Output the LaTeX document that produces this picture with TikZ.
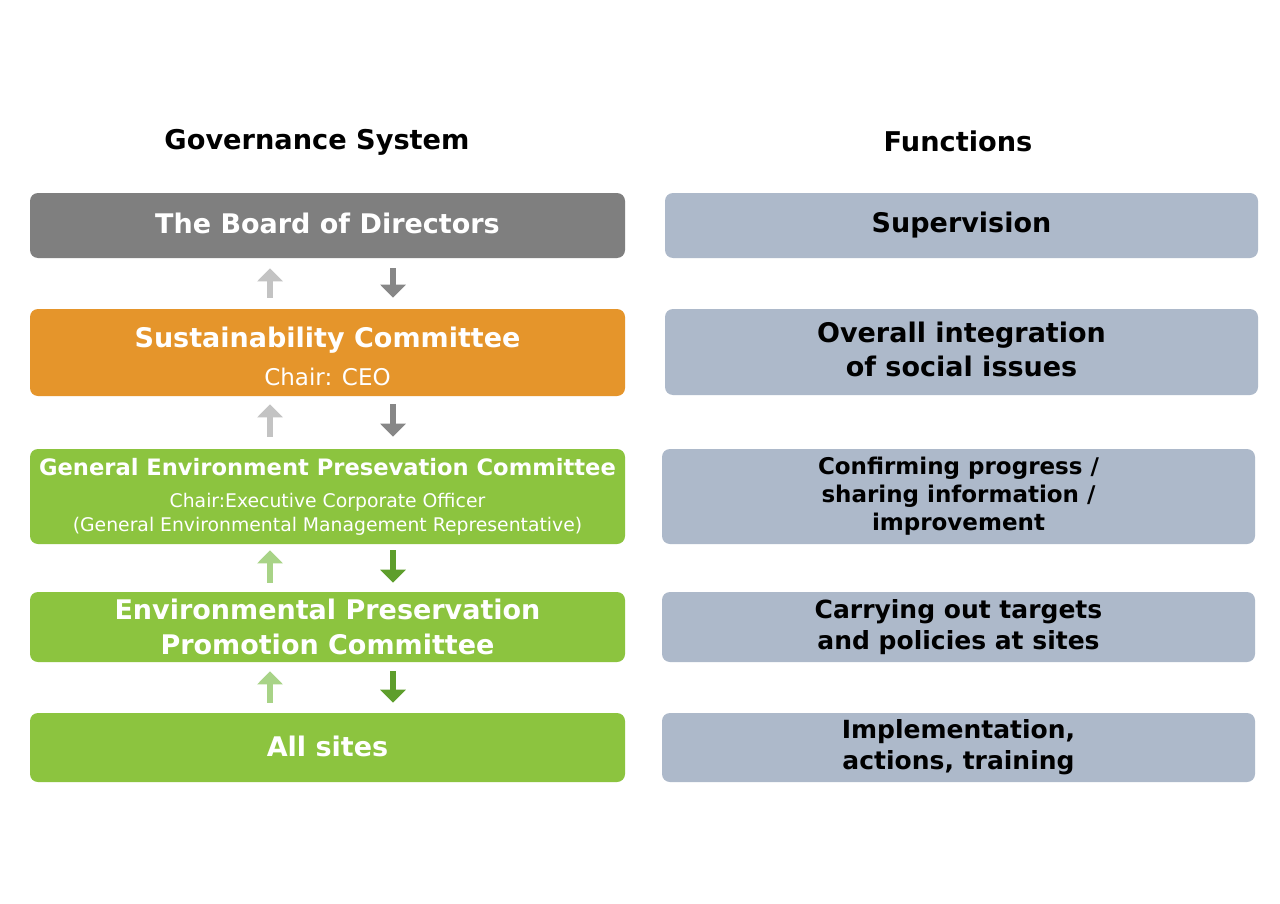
\documentclass[tikz,border=0pt]{standalone}
\usepackage{fontspec}
\setmainfont{DejaVu Sans}
\usetikzlibrary{positioning, arrows.meta}

\definecolor{boardgray}{HTML}{7F7F7F}
\definecolor{sustorange}{HTML}{E5952B}
\definecolor{envgreen}{HTML}{8CC43F}
\definecolor{funcblue}{HTML}{ADB9CA}
\definecolor{upgray}{HTML}{C3C3C3}
\definecolor{downgray}{HTML}{878787}
\definecolor{upgreen}{HTML}{A8D387}
\definecolor{downgreen}{HTML}{5E9E2C}

\begin{document}
\begin{tikzpicture}[x=0.5pt, y=-0.5pt,
    govbox/.style={rounded corners=4pt, minimum width=297.5pt, text=white, align=center, inner sep=0pt},
    funcbox/.style={rounded corners=4pt, fill=funcblue, minimum width=296.5pt, text=black, align=center, inner sep=0pt, font=\bfseries},
    flow/.style={line width=3pt, -{Triangle[width=12.5pt, length=6.5pt]}},
    title/.style={font=\fontsize{13.6}{16}\selectfont\bfseries}]
    \useasboundingbox[fill=white] (0,0) rectangle (1280,904);
    % headings
    \node[title] (govtitle) at (317,142.5) {Governance System};
    \node[title] (functitle) at (958,141) {Functions};
    % governance side
    \node[govbox, fill=boardgray, minimum height=32.5pt, font=\fontsize{13.5}{16}\selectfont\bfseries] (board) at (327.5,225.5) {\raisebox{2.5pt}{The Board of Directors}};
    \node[govbox, fill=sustorange, minimum height=43.5pt,
        label={[text=white, align=center, inner sep=0pt, yshift=-1.75pt]center:{\fontsize{13.5}{16}\selectfont\bfseries Sustainability Committee}\\[7pt]
         {\fontsize{11.5}{13}\selectfont Chair: CEO}}] (sust) at (327.5,352.5) {};
    \node[govbox, fill=envgreen, minimum height=47.5pt] (gepc) at (327.5,496.5)
        {{\fontsize{11.3}{13}\selectfont\bfseries General Environment Presevation Committee}\\[4pt]
         {\fontsize{9.4}{11.5}\selectfont Chair:Executive Corporate Officer}\\
         {\fontsize{9.4}{11.5}\selectfont (General Environmental Management Representative)}};
    \node[govbox, fill=envgreen, minimum height=35pt, font=\fontsize{13.5}{17.5}\selectfont\bfseries] (eppc) at (327.5,627)
        {Environmental Preservation\\Promotion Committee};
    \node[govbox, fill=envgreen, minimum height=34.5pt, font=\fontsize{13.5}{16}\selectfont\bfseries] (sites) at (327.5,747.5) {\raisebox{1pt}{All sites}};
    % functions side
    \node[funcbox, minimum height=32.5pt, font=\fontsize{13.5}{16}\selectfont\bfseries] (superv) at (961.5,225.5) {Supervision};
    \node[funcbox, minimum height=43pt, font=\fontsize{13.5}{17.5}\selectfont\bfseries] (integ) at (961.5,352)
        {\raisebox{1.5pt}{\begin{tabular}{@{}c@{}}Overall integration\\[-0.5pt]of social issues\end{tabular}}};
    \node[funcbox, minimum height=47.5pt, font=\fontsize{11.5}{14}\selectfont\bfseries] (confirm) at (958.5,496.5)
        {Confirming progress /\\sharing information /\\improvement};
    \node[funcbox, minimum height=35pt, font=\fontsize{12.5}{15.5}\selectfont\bfseries] (carry) at (958.5,627)
        {Carrying out targets\\and policies at sites};
    \node[funcbox, minimum height=34.5pt, font=\fontsize{12.5}{15.5}\selectfont\bfseries] (implem) at (958.5,747.5)
        {Implementation,\\actions, training};
    % reporting arrows
    \draw[flow, upgray] ([xshift=-28.75pt, yshift=5.5pt]sust.north) -- ([xshift=-28.75pt, yshift=-5pt]board.south);
    \draw[flow, downgray] ([xshift=32.75pt, yshift=-5pt]board.south) -- ([xshift=32.75pt, yshift=5.5pt]sust.north);
    \draw[flow, upgray] ([xshift=-28.75pt, yshift=6pt]gepc.north) -- ([xshift=-28.75pt, yshift=-4pt]sust.south);
    \draw[flow, downgray] ([xshift=32.75pt, yshift=-4pt]sust.south) -- ([xshift=32.75pt, yshift=6pt]gepc.north);
    \draw[flow, upgreen] ([xshift=-28.75pt, yshift=4.5pt]eppc.north) -- ([xshift=-28.75pt, yshift=-3pt]gepc.south);
    \draw[flow, downgreen] ([xshift=32.75pt, yshift=-3pt]gepc.south) -- ([xshift=32.75pt, yshift=4.5pt]eppc.north);
    \draw[flow, upgreen] ([xshift=-28.75pt, yshift=5pt]sites.north) -- ([xshift=-28.75pt, yshift=-4.5pt]eppc.south);
    \draw[flow, downgreen] ([xshift=32.75pt, yshift=-4.5pt]eppc.south) -- ([xshift=32.75pt, yshift=5pt]sites.north);
\end{tikzpicture}
\end{document}
